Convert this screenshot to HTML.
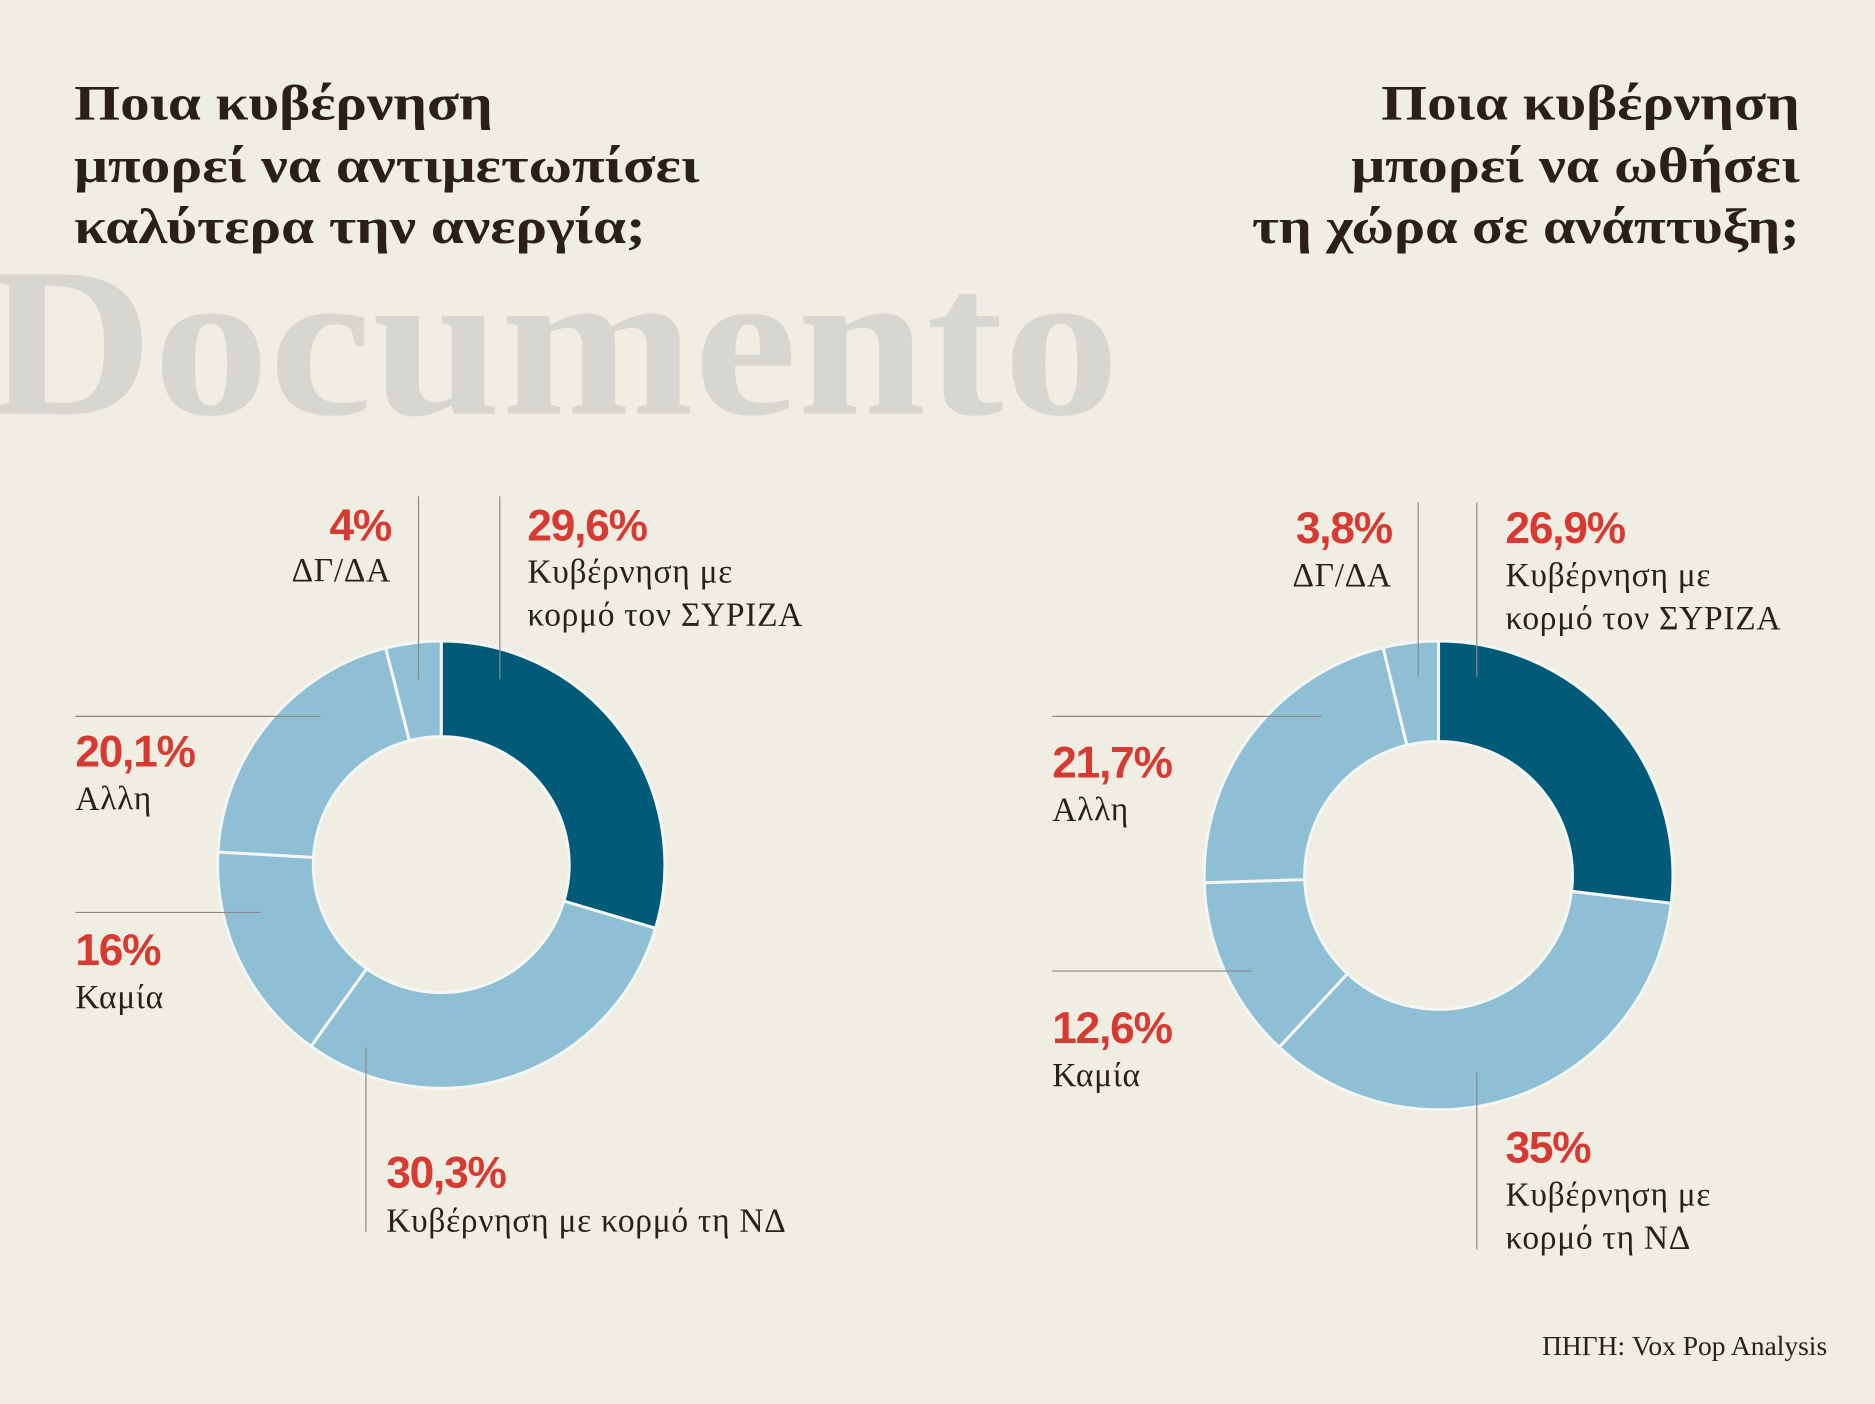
<!DOCTYPE html>
<html><head><meta charset="utf-8">
<style>
html,body{margin:0;padding:0;background:#f0ede3;}
svg{display:block;}
.title{font-family:"Liberation Serif",serif;font-weight:bold;font-size:42px;fill:#2b2018;}
.pct{font-family:"Liberation Sans",sans-serif;font-weight:bold;font-size:37px;fill:#d63a32;letter-spacing:-1px;}
.lbl{font-family:"Liberation Serif",serif;font-size:28px;fill:#2b2018;letter-spacing:0.6px;}
.lead{stroke:#8a8a8a;stroke-width:1;}
</style></head>
<body>
<svg id="chart" width="1875" height="1404" viewBox="0 0 1568 1174" xmlns="http://www.w3.org/2000/svg">
<rect width="1568" height="1174" fill="#f0ede3"/>
<text x="-12" y="346" font-family="Liberation Serif, serif" font-weight="bold" font-size="178" fill="#d8d6d1" textLength="948" lengthAdjust="spacingAndGlyphs">Documento</text>

<g>
<text class="title" x="62" y="100" textLength="350" lengthAdjust="spacingAndGlyphs">Ποια κυβέρνηση</text>
<text class="title" x="62" y="152" textLength="523" lengthAdjust="spacingAndGlyphs">μπορεί να αντιμετωπίσει</text>
<text class="title" x="62" y="203" textLength="478" lengthAdjust="spacingAndGlyphs">καλύτερα την ανεργία;</text>
</g>
<g>
<text class="title" x="1155" y="100" textLength="350" lengthAdjust="spacingAndGlyphs">Ποια κυβέρνηση</text>
<text class="title" x="1130" y="152" textLength="375" lengthAdjust="spacingAndGlyphs">μπορεί να ωθήσει</text>
<text class="title" x="1047" y="203" textLength="458" lengthAdjust="spacingAndGlyphs">τη χώρα σε ανάπτυξη;</text>
</g>

<g id="donut-left"></g>
<g id="donut-right"></g>

<g>
<line class="lead" x1="350" y1="415" x2="350" y2="568"/>
<line class="lead" x1="418" y1="415" x2="418" y2="568"/>
<line class="lead" x1="63" y1="599" x2="268" y2="599"/>
<line class="lead" x1="63" y1="763" x2="218" y2="763"/>
<line class="lead" x1="306" y1="876" x2="306" y2="1030"/>
</g>
<g>
<line class="lead" x1="1186" y1="420" x2="1186" y2="566"/>
<line class="lead" x1="1235" y1="420" x2="1235" y2="566"/>
<line class="lead" x1="880" y1="599" x2="1105" y2="599"/>
<line class="lead" x1="880" y1="812" x2="1047" y2="812"/>
<line class="lead" x1="1235" y1="897" x2="1235" y2="1045"/>
</g>

<g>
<text class="pct" x="327" y="452" text-anchor="end">4%</text>
<text class="lbl" x="327" y="486" text-anchor="end">ΔΓ/ΔΑ</text>
<text class="pct" x="441" y="452">29,6%</text>
<text class="lbl" x="441" y="487">Κυβέρνηση με</text>
<text class="lbl" x="441" y="523">κορμό τον ΣΥΡΙΖΑ</text>
<text class="pct" x="63" y="641">20,1%</text>
<text class="lbl" x="63" y="677">Αλλη</text>
<text class="pct" x="63" y="807">16%</text>
<text class="lbl" x="63" y="843">Καμία</text>
<text class="pct" x="323" y="993">30,3%</text>
<text class="lbl" x="323" y="1030">Κυβέρνηση με κορμό τη ΝΔ</text>
</g>
<g>
<text class="pct" x="1164" y="454" text-anchor="end">3,8%</text>
<text class="lbl" x="1164" y="490" text-anchor="end">ΔΓ/ΔΑ</text>
<text class="pct" x="1259" y="454">26,9%</text>
<text class="lbl" x="1259" y="490">Κυβέρνηση με</text>
<text class="lbl" x="1259" y="526">κορμό τον ΣΥΡΙΖΑ</text>
<text class="pct" x="880" y="650">21,7%</text>
<text class="lbl" x="880" y="686">Αλλη</text>
<text class="pct" x="880" y="872">12,6%</text>
<text class="lbl" x="880" y="908">Καμία</text>
<text class="pct" x="1259" y="972">35%</text>
<text class="lbl" x="1259" y="1008">Κυβέρνηση με</text>
<text class="lbl" x="1259" y="1044">κορμό τη ΝΔ</text>
</g>
<text x="1528" y="1133" text-anchor="end" font-family="Liberation Serif, serif" font-size="23" fill="#2b2018">ΠΗΓΗ: Vox Pop Analysis</text>
</svg>
<script>
const categories = ["ΣΥΡΙΖΑ","ΝΔ","Καμία","Αλλη","ΔΓ/ΔΑ"];
const leftValues = [29.6, 30.3, 16, 20.1, 4];
const rightValues = [26.9, 35, 12.6, 21.7, 3.8];
const sliceColors = ["#005a78","#8fbfd4","#8fbfd4","#8fbfd4","#8fbfd4"];

function drawDonut(gid, values, cx, cy, R, r, prefix){
  const g = document.getElementById(gid);
  const total = values.reduce((a,b)=>a+b,0);
  let acc = 0;
  const pt = (ang, rad) => [cx + rad*Math.sin(ang), cy - rad*Math.cos(ang)];
  values.forEach((v,i)=>{
    const a0 = acc/total*2*Math.PI; acc += v;
    const a1 = acc/total*2*Math.PI;
    const large = (a1-a0) > Math.PI ? 1 : 0;
    const [x0,y0]=pt(a0,R),[x1,y1]=pt(a1,R),[x2,y2]=pt(a1,r),[x3,y3]=pt(a0,r);
    const p = document.createElementNS("http://www.w3.org/2000/svg","path");
    p.setAttribute("d",`M${x0},${y0}A${R},${R} 0 ${large} 1 ${x1},${y1}L${x2},${y2}A${r},${r} 0 ${large} 0 ${x3},${y3}Z`);
    p.setAttribute("fill",sliceColors[i]);
    p.setAttribute("stroke","#f4f6f4");
    p.setAttribute("stroke-width","2.5");
    
    
    g.appendChild(p);
  });
}
drawDonut("donut-left", leftValues, 369, 723, 187, 107, "left");
drawDonut("donut-right", rightValues, 1203, 732, 196, 112, "right");
</script>
</body></html>
